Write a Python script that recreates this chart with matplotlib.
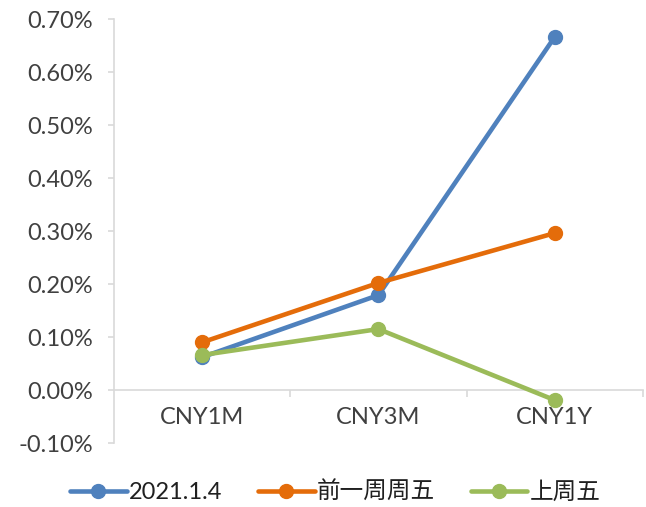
import matplotlib
matplotlib.use("Agg")
import matplotlib.pyplot as plt
from matplotlib.ticker import FuncFormatter, FixedLocator

plt.rcParams['font.family'] = ['Lato', 'Noto Sans CJK SC', 'DejaVu Sans']

categories = ["CNY1M", "CNY3M", "CNY1Y"]
series_names = ["2021.1.4", "前一周周五", "上周五"]
s_2021 = [0.062, 0.179, 0.666]
s_prev = [0.090, 0.202, 0.296]
s_last = [0.066, 0.115, -0.019]
colors = ["#4F81BD", "#E46C0A", "#9BBB59"]
yticks = [-0.10, 0.0, 0.10, 0.20, 0.30, 0.40, 0.50, 0.60, 0.70]

fig = plt.figure(figsize=(6.46, 5.07), dpi=100)
ax = fig.add_axes([0.1765, 0.1262, 0.8235 - 0.005, 0.9625 - 0.1262])

x = list(range(len(categories)))
for vals, name, c in zip([s_2021, s_prev, s_last], series_names, colors):
    ax.plot(x, vals, color=c, lw=3.3, marker='o', markersize=10, label=name,
            solid_capstyle='round')

ax.set_xlim(-0.5, 2.5)
ax.set_ylim(-0.10, 0.70)
ax.set_yticks(yticks)
ax.yaxis.set_major_formatter(FuncFormatter(lambda v, p: f"{v:.2f}%"))
ax.set_xticks(x)
ax.set_xticklabels(categories)
ax.xaxis.set_minor_locator(FixedLocator([0.5, 1.5, 2.5]))

for s in ['top', 'right']:
    ax.spines[s].set_visible(False)
ax.spines['left'].set_color('#d9d9d9')
ax.spines['left'].set_linewidth(1.2)
ax.spines['bottom'].set_position(('data', 0))
ax.spines['bottom'].set_color('#d9d9d9')
ax.spines['bottom'].set_linewidth(1.2)
ax.spines['bottom'].set_zorder(0)

ax.tick_params(axis='y', which='major', length=4, color='#d9d9d9', width=1.2,
               labelsize=17, labelcolor='#404040', pad=11)
ax.tick_params(axis='x', which='major', length=0, labelsize=17,
               labelcolor='#404040', pad=12)
ax.tick_params(axis='x', which='minor', length=5, color='#d9d9d9', width=1.2)

leg = fig.legend(loc='center', bbox_to_anchor=(0.519, 0.03), ncol=3, frameon=False,
                 fontsize=17, handlelength=2.4, columnspacing=1.5, handletextpad=0.1)
for t in leg.get_texts():
    t.set_color('#202020')

fig.savefig("out.png", dpi=100)
